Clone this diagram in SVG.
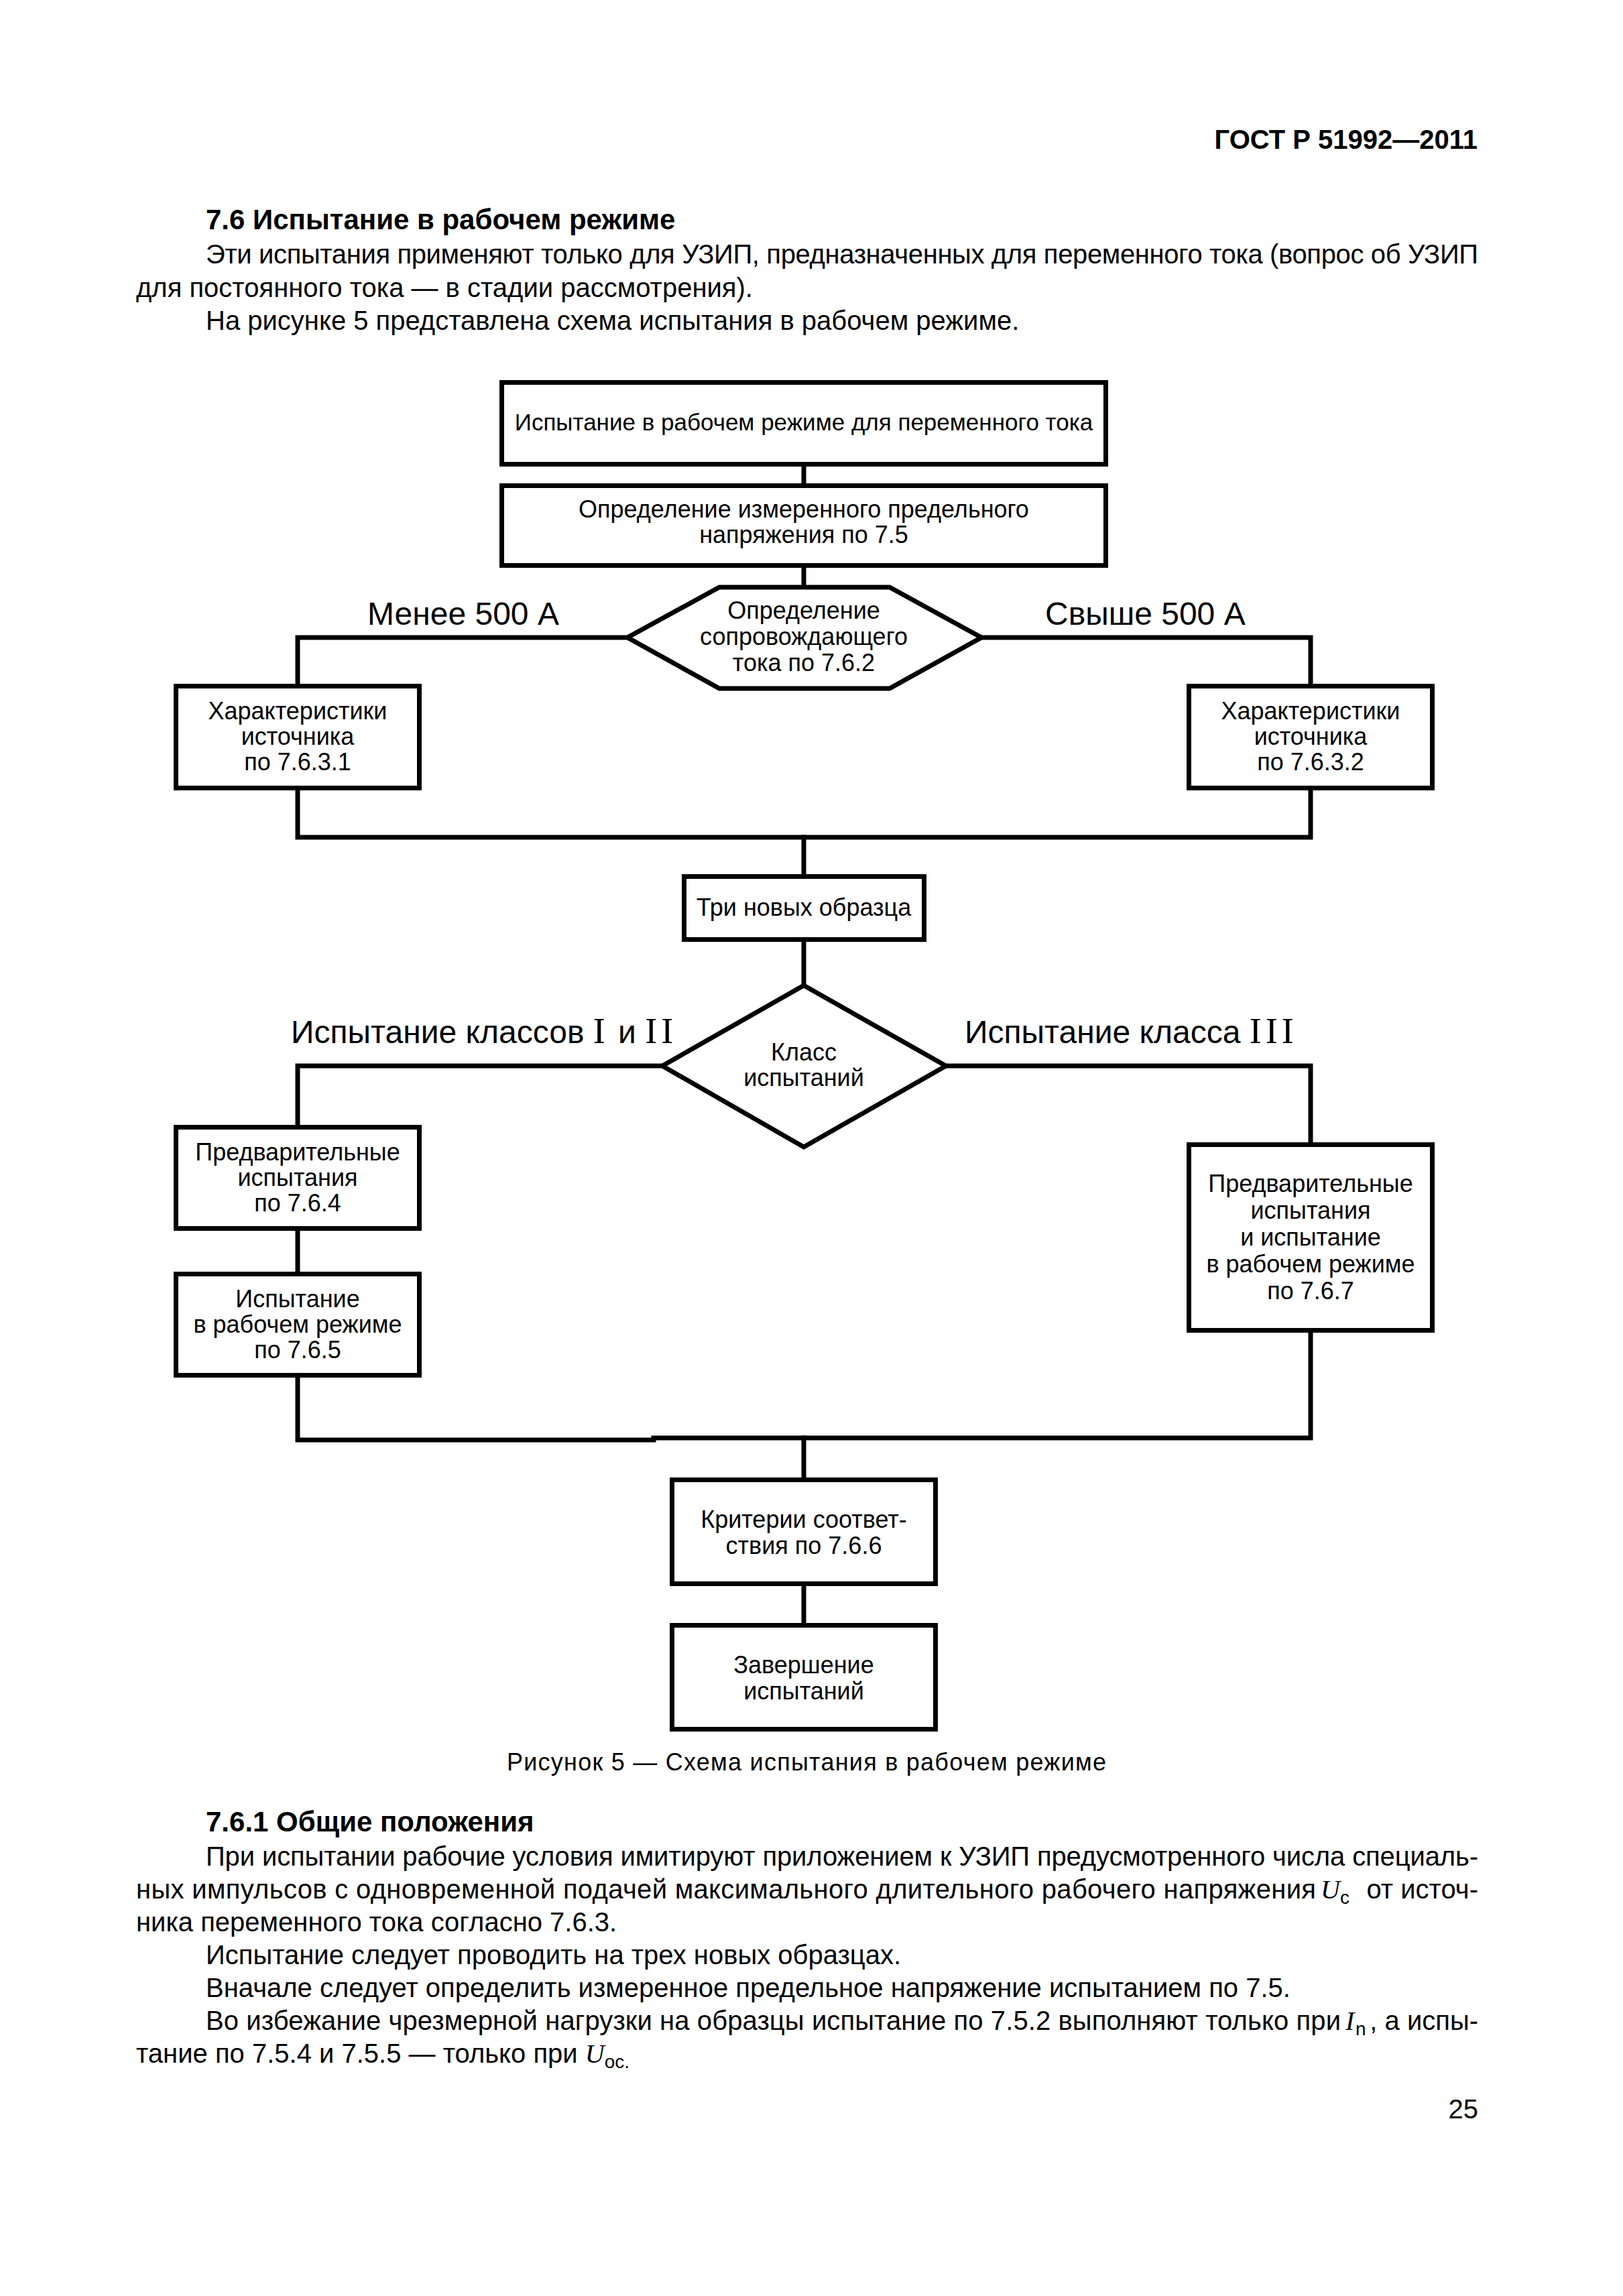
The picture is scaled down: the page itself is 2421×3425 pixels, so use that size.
<svg xmlns="http://www.w3.org/2000/svg" width="2421" height="3425" viewBox="0 0 2421 3425">
<style>
text { font-family: "Liberation Sans", Arial, sans-serif; fill: #000; }
.d { font-size: 36px; text-anchor: middle; }
.lbl { font-size: 48px; }
.body { font-size: 40px; }
.h { font-size: 42px; font-weight: bold; }
.b { font-weight: bold; }
.rom { font-family: "Liberation Serif", "Times New Roman", serif; font-size: 54px; letter-spacing: 6px; }
.it { font-family: "Liberation Serif", "Times New Roman", serif; font-style: italic; }
.sub { font-size: 28px; }
.box { fill: #fff; stroke: #000; stroke-width: 7; }
.ln { fill: none; stroke: #000; stroke-width: 7; stroke-linejoin: miter; stroke-linecap: square; }
</style>
<rect width="2421" height="3425" fill="#fff"/>

<g id="page-text">
<text class="body b" x="2204" y="222" text-anchor="end">ГОСТ Р 51992—2011</text>
<text class="h" x="307" y="342">7.6 Испытание в рабочем режиме</text>
<text class="body" x="307" y="393" textLength="1898" lengthAdjust="spacing">Эти испытания применяют только для УЗИП, предназначенных для переменного тока (вопрос об УЗИП</text>
<text class="body" x="203" y="443">для постоянного тока — в стадии рассмотрения).</text>
<text class="body" x="307" y="492">На рисунке 5 представлена схема испытания в рабочем режиме.</text>

<text x="756" y="2641" style="font-size:36px" textLength="894" lengthAdjust="spacing">Рисунок 5 — Схема испытания в рабочем режиме</text>

<text class="h" x="307" y="2732">7.6.1 Общие положения</text>
<text class="body" x="307" y="2783" textLength="1898" lengthAdjust="spacing">При испытании рабочие условия имитируют приложением к УЗИП предусмотренного числа специаль-</text>
<text class="body" x="203" y="2832" textLength="1760" lengthAdjust="spacing">ных импульсов с одновременной подачей максимального длительного рабочего напряжения</text>
<text class="body it" x="1970" y="2832">U</text>
<text class="sub" x="1999" y="2840">c</text>
<text class="body" x="2205" y="2832" text-anchor="end">от источ-</text>
<text class="body" x="203" y="2881">ника переменного тока согласно 7.6.3.</text>
<text class="body" x="307" y="2930">Испытание следует проводить на трех новых образцах.</text>
<text class="body" x="307" y="2979">Вначале следует определить измеренное предельное напряжение испытанием по 7.5.</text>
<text class="body" x="307" y="3028" textLength="1693" lengthAdjust="spacing">Во избежание чрезмерной нагрузки на образцы испытание по 7.5.2 выполняют только при</text>
<text class="body it" x="2007" y="3028">I</text>
<text class="sub" x="2022" y="3036">n</text>
<text class="body" x="2205" y="3028" text-anchor="end">, а испы-</text>
<text class="body" x="203" y="3077">тание по 7.5.4 и 7.5.5 — только при <tspan class="it">U</tspan><tspan class="sub" dy="8">oc.</tspan></text>
<text class="body" x="2205" y="3160" text-anchor="end">25</text>
</g>

<g id="connectors">
<line class="ln" x1="1199" y1="693" x2="1199" y2="724"/>
<line class="ln" x1="1199" y1="847" x2="1199" y2="874"/>
<polyline class="ln" points="936,951 444,951 444,1023"/>
<polyline class="ln" points="1464,951 1955,951 1955,1023"/>
<polyline class="ln" points="444,1176 444,1249 1955,1249 1955,1176"/>
<line class="ln" x1="1199" y1="1249" x2="1199" y2="1307"/>
<line class="ln" x1="1199" y1="1402" x2="1199" y2="1470"/>
<polyline class="ln" points="988,1590 444,1590 444,1681"/>
<line class="ln" x1="444" y1="1833" x2="444" y2="1900"/>
<polyline class="ln" points="1411,1590 1955,1590 1955,1707"/>
<polyline class="ln" points="444,2052 444,2148 975,2148"/>
<polyline class="ln" points="975,2145 1955,2145 1955,1985"/>
<line class="ln" x1="1199" y1="2145" x2="1199" y2="2207"/>
<line class="ln" x1="1199" y1="2363" x2="1199" y2="2424"/>
</g>

<g id="labels">
<text class="lbl" x="548" y="932">Менее 500 А</text>
<text class="lbl" x="1559" y="932">Свыше 500 А</text>
<text class="lbl" x="434" y="1556">Испытание классов <tspan class="rom">I</tspan> и <tspan class="rom">II</tspan></text>
<text class="lbl" x="1439" y="1556">Испытание класса <tspan class="rom">III</tspan></text>
</g>

<g id="n-start">
<rect class="box" x="748.5" y="570.5" width="901" height="122"/>
<text class="d" x="1199" y="642" style="font-size:35px">Испытание в рабочем режиме для переменного тока</text>
</g>
<g id="n-measure">
<rect class="box" x="748.5" y="724.5" width="901" height="119"/>
<text class="d" x="1199" y="772">Определение измеренного предельного</text>
<text class="d" x="1199" y="810">напряжения по 7.5</text>
</g>
<g id="n-current">
<polygon class="box" points="1073,876 1327,876 1464,951 1327,1027 1073,1027 936,951"/>
<text class="d" x="1199" y="923">Определение</text>
<text class="d" x="1199" y="962">сопровождающего</text>
<text class="d" x="1199" y="1001">тока по 7.6.2</text>
</g>
<g id="n-src1">
<rect class="box" x="262.5" y="1023.5" width="363" height="152"/>
<text class="d" x="444" y="1073">Характеристики</text>
<text class="d" x="444" y="1111">источника</text>
<text class="d" x="444" y="1149">по 7.6.3.1</text>
</g>
<g id="n-src2">
<rect class="box" x="1773.5" y="1023.5" width="363" height="152"/>
<text class="d" x="1955" y="1073">Характеристики</text>
<text class="d" x="1955" y="1111">источника</text>
<text class="d" x="1955" y="1149">по 7.6.3.2</text>
</g>
<g id="n-samples">
<rect class="box" x="1020.5" y="1307.5" width="358" height="94"/>
<text class="d" x="1199" y="1366">Три новых образца</text>
</g>
<g id="n-class">
<polygon class="box" points="1199,1470 1411,1590 1199,1711 988,1590"/>
<text class="d" x="1199" y="1582">Класс</text>
<text class="d" x="1199" y="1620">испытаний</text>
</g>
<g id="n-pre">
<rect class="box" x="262.5" y="1681.5" width="363" height="151"/>
<text class="d" x="444" y="1731">Предварительные</text>
<text class="d" x="444" y="1769">испытания</text>
<text class="d" x="444" y="1807">по 7.6.4</text>
</g>
<g id="n-op">
<rect class="box" x="262.5" y="1900.5" width="363" height="151"/>
<text class="d" x="444" y="1950">Испытание</text>
<text class="d" x="444" y="1988">в рабочем режиме</text>
<text class="d" x="444" y="2026">по 7.6.5</text>
</g>
<g id="n-class3">
<rect class="box" x="1773.5" y="1707.5" width="363" height="277"/>
<text class="d" x="1955" y="1778">Предварительные</text>
<text class="d" x="1955" y="1818">испытания</text>
<text class="d" x="1955" y="1858">и испытание</text>
<text class="d" x="1955" y="1898">в рабочем режиме</text>
<text class="d" x="1955" y="1938">по 7.6.7</text>
</g>
<g id="n-criteria">
<rect class="box" x="1002.5" y="2207.5" width="393" height="155"/>
<text class="d" x="1199" y="2279">Критерии соответ-</text>
<text class="d" x="1199" y="2318">ствия по 7.6.6</text>
</g>
<g id="n-end">
<rect class="box" x="1002.5" y="2424.5" width="393" height="155"/>
<text class="d" x="1199" y="2496">Завершение</text>
<text class="d" x="1199" y="2535">испытаний</text>
</g>
</svg>
